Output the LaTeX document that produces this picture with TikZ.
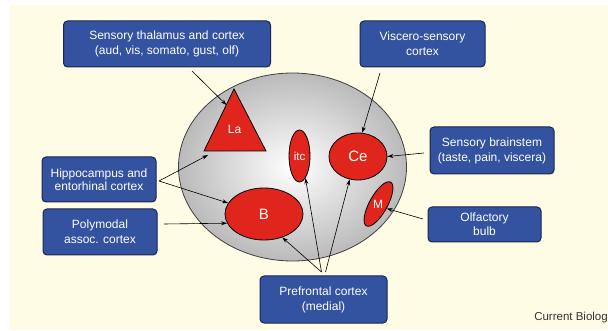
\documentclass[tikz,border=0pt]{standalone}
\usepackage{fontspec}
\setmainfont{Liberation Sans}
\usetikzlibrary{shapes.geometric,arrows.meta}
\definecolor{cream}{HTML}{FFFCE6}
\definecolor{boxblue}{HTML}{3352A0}
\definecolor{boxedge}{HTML}{1B2650}
\definecolor{amred}{HTML}{E0261C}
\tikzset{
  infobox/.style={draw=boxedge, line width=1pt, fill=boxblue, rounded corners=4pt,
    text=white, align=center, inner sep=0pt,
    font=\fontsize{12}{15}\selectfont},
  nucleus/.style={ellipse, draw=black, line width=0.8pt, fill=amred, inner sep=0pt,
    text=white, font=\fontsize{12}{13}\selectfont},
  conn/.style={-{Stealth[length=6pt,width=4pt]}, line width=0.6pt},
}
\begin{document}
\begin{tikzpicture}[x=1pt,y=-1pt]
\useasboundingbox (0,0) rectangle (608,331);
\fill[white] (0,0) rectangle (608,331);
\fill[cream] (10,5) rectangle (608,330);

% amygdala body
\node[ellipse, draw=black!75, line width=0.8pt, minimum width=228, minimum height=188,
  inner sep=0pt, shading=radial, inner color=white, outer color=black!27] (amy) at (292.5,167) {};

% nuclei
\coordinate (tA) at (234,89);
\coordinate (tL) at (204,151);
\coordinate (tR) at (266,151);
\fill[amred] (tA) -- (tL) -- (tR) -- cycle;
\draw[line width=0.8pt, line join=miter] (tA) -- (tL) -- (tR) -- cycle;
\node[text=white, font=\fontsize{12}{13}\selectfont] (La) at (234.5,129) {La};
\node[nucleus, minimum width=21, minimum height=52] (itc) at (299.5,156) {};
\node[text=white, font=\fontsize{11.5}{13}\selectfont] (itclab) at (299.5,156) {itc};
\node[nucleus, minimum width=58, minimum height=47, font=\fontsize{15}{16}\selectfont] (Ce) at (358,156.5) {Ce};
\node[nucleus, minimum width=78, minimum height=52, font=\fontsize{15}{16}\selectfont] (B) at (264,214) {B};
\node[nucleus, minimum width=50, minimum height=18, rotate=61] (M) at (378.5,204) {};
\node[text=white, font=\fontsize{12}{13}\selectfont] (Mlab) at (378,204) {M};

% boxes
\node[infobox, minimum width=207, minimum height=46] (thal) at (167,44)
  {Sensory thalamus and cortex\\(aud, vis, somato, gust, olf)};
\node[infobox, minimum width=125, minimum height=46] (visc) at (422.5,44)
  {Viscero-sensory\\cortex};
\node[infobox, minimum width=124, minimum height=47] (brain) at (492,150.5)
  {Sensory brainstem\\(taste, pain, viscera)};
\node[infobox, minimum width=113, minimum height=35, font=\fontsize{12}{14}\selectfont] (olf) at (484.5,224.5)
  {Olfactory\\bulb};
\node[infobox, minimum width=114, minimum height=45, font=\fontsize{12}{13.5}\selectfont] (hippo) at (99,179.5)
  {Hippocampus and\\entorhinal cortex};
\node[infobox, minimum width=114, minimum height=46] (poly) at (100,232)
  {Polymodal\\assoc. cortex};
\node[infobox, minimum width=127, minimum height=47] (pref) at (323.5,299.5)
  {Prefrontal cortex\\(medial)};

% connector start points
\coordinate (s1) at (192,71);
\coordinate (e1) at (226.5,105);
\coordinate (s2) at (380,73);
\coordinate (s3) at (424,153);
\coordinate (s4) at (423,219);
\coordinate (s5) at (159,181);
\coordinate (e5) at (208,155);
\coordinate (s6) at (164,224);
\coordinate (s7) at (321.5,272);
\coordinate (s8) at (325.5,272);

\draw[conn] (s1) -- (e1);
\draw[conn] (s2) -- (Ce.80);
\draw[conn] (s3) -- (Ce.east);
\draw[conn] (s4) -- (M.south);
\draw[conn] (s5) -- (e5);
\draw[conn] (s5) -- (B.163);
\draw[conn] (s6) -- (B.194);
\draw[conn] (s7) -- (B.-52);
\draw[conn] (s7) -- (itc.-75);
\draw[conn] (s8) -- (Ce.-110);

\node[anchor=east, inner sep=0pt, text=black!80, font=\fontsize{11.5}{13}\selectfont] (cb) at (608,318) {Current Biolog};
\end{tikzpicture}
\end{document}
